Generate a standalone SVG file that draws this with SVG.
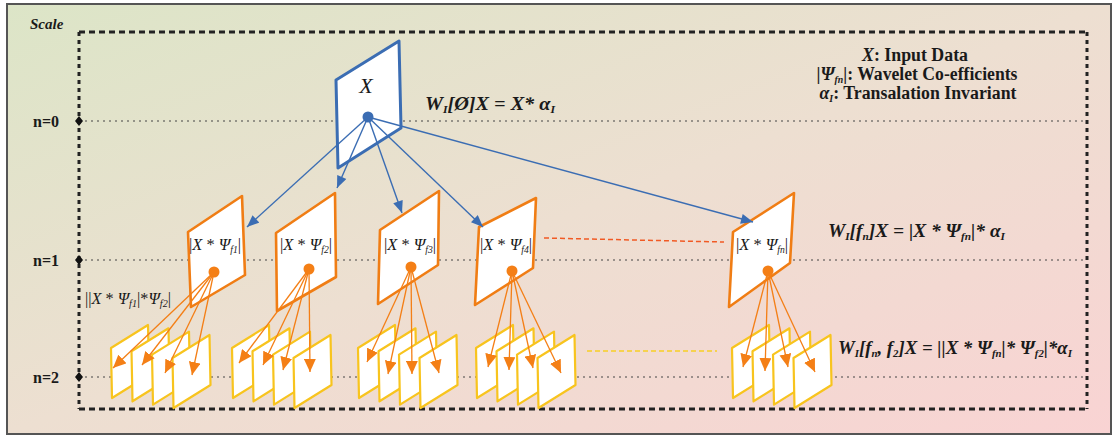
<svg xmlns="http://www.w3.org/2000/svg" xmlns:xlink="http://www.w3.org/1999/xlink" width="1116" height="438" viewBox="0 0 1116 438">
<defs>
<linearGradient id="bg" x1="0" y1="0" x2="1" y2="1">
<stop offset="0" stop-color="#dce5c7"/>
<stop offset="0.5" stop-color="#eddfd1"/>
<stop offset="1" stop-color="#f9d3d3"/>
</linearGradient>
<marker id="ab" viewBox="0 0 12 10" refX="12" refY="5" markerWidth="13" markerHeight="10" markerUnits="userSpaceOnUse" orient="auto">
<path d="M0,0 L12,5 L0,10 z" fill="#3b6db3"/>
</marker>
<marker id="ao" viewBox="0 0 12 11" refX="12" refY="5.5" markerWidth="13" markerHeight="12" markerUnits="userSpaceOnUse" orient="auto">
<path d="M0,0 L12,5.5 L0,11 z" fill="#f47f16"/>
</marker>
<polygon id="fr" points="0,23 37,0 38,50 1,73" fill="#fff" stroke="#f8c41e" stroke-width="2.2" stroke-linejoin="round"/>
<style>
.t{font-family:"Liberation Serif","Times New Roman",serif;fill:#1a1a1a}
.b{font-weight:bold}
.i{font-style:italic}
.n1{fill:#fff;stroke:#f07d14;stroke-width:2.6;stroke-linejoin:round}
.bl{stroke:#3b6db3;stroke-width:1.4;fill:none;marker-end:url(#ab)}
.or{stroke:#f47f16;stroke-width:1.3;fill:none;marker-end:url(#ao)}
.dot{stroke:#444;stroke-width:1;stroke-dasharray:2 4;fill:none}
.lbl{font-size:17px}
.sub{font-size:10px}
</style>
</defs>
<rect x="0" y="0" width="1116" height="438" fill="#fff"/>
<rect x="7" y="4" width="1104" height="430" fill="url(#bg)" stroke="#555" stroke-width="2"/>
<text class="t b i" x="30" y="29" font-size="15">Scale</text>
<g id="frame">
<path d="M79,32 H1087" stroke="#222" stroke-width="3" stroke-dasharray="6 4" fill="none"/>
<path d="M79,409 H1087" stroke="#222" stroke-width="3" stroke-dasharray="6 4" fill="none"/>
<path d="M79,32 V409" stroke="#222" stroke-width="3" stroke-dasharray="4 4" fill="none"/>
<path d="M1087,32 V409" stroke="#222" stroke-width="3" stroke-dasharray="4 4" fill="none"/>
<path class="dot" d="M79,121 H1087"/>
<path class="dot" d="M79,260 H1087"/>
<path class="dot" d="M79,377 H1087"/>
<path d="M79,116 L83,121 L79,126 L75,121 z M79,255 L83,260 L79,265 L75,260 z M79,372 L83,377 L79,382 L75,377 z" fill="#111"/>
<text class="t b" x="33" y="127" font-size="16">n=0</text>
<text class="t b" x="33" y="266" font-size="16">n=1</text>
<text class="t b" x="33" y="383" font-size="16">n=2</text>
</g>
<g id="legend" class="t b" font-size="18" text-anchor="middle">
<text x="915" y="61" textLength="106" lengthAdjust="spacingAndGlyphs"><tspan class="i">X</tspan>: Input Data</text>
<text x="917" y="80" textLength="201" lengthAdjust="spacingAndGlyphs">|<tspan class="i">Ψ</tspan><tspan class="sub i" dy="3">fn</tspan><tspan dy="-3">|: Wavelet Co-efficients</tspan></text>
<text x="918" y="99" textLength="197" lengthAdjust="spacingAndGlyphs"><tspan class="i">α</tspan><tspan class="sub i" dy="3">I</tspan><tspan dy="-3">: Transalation Invariant</tspan></text>
</g>
<g id="eq0" class="t b i" font-size="19">
<text x="425" y="110" textLength="130" lengthAdjust="spacingAndGlyphs">W<tspan font-size="11" dy="3">I</tspan><tspan dy="-3">[Ø]X = X* α</tspan><tspan font-size="11" dy="3">I</tspan></text>
</g>
<g id="eq1" class="t b i" font-size="19">
<text x="828" y="237" textLength="177" lengthAdjust="spacingAndGlyphs">W<tspan font-size="11" dy="3">I</tspan><tspan dy="-3">[f</tspan><tspan font-size="11" dy="3">n</tspan><tspan dy="-3">]X = |X * Ψ</tspan><tspan font-size="11" dy="3">fn</tspan><tspan dy="-3">|* α</tspan><tspan font-size="11" dy="3">I</tspan></text>
</g>
<g id="eq2" class="t b i" font-size="19">
<text x="838" y="354" textLength="234" lengthAdjust="spacingAndGlyphs">W<tspan font-size="11" dy="3">I</tspan><tspan dy="-3">[f</tspan><tspan font-size="11" dy="3">n</tspan><tspan dy="-3">, f</tspan><tspan font-size="11" dy="3">2</tspan><tspan dy="-3">]X = ||X * Ψ</tspan><tspan font-size="11" dy="3">fn</tspan><tspan dy="-3">|* Ψ</tspan><tspan font-size="11" dy="3">f2</tspan><tspan dy="-3">|*α</tspan><tspan font-size="11" dy="3">I</tspan></text>
</g>
<g id="lbl-f1f2">
<text class="t" x="85" y="304" font-size="16" textLength="86" lengthAdjust="spacingAndGlyphs">||<tspan class="i">X</tspan> * <tspan class="i">Ψ</tspan><tspan class="sub i" dy="3">f1</tspan><tspan dy="-3">|*</tspan><tspan class="i">Ψ</tspan><tspan class="sub i" dy="3">f2</tspan><tspan dy="-3">|</tspan></text>
</g>
<g id="nodeX">
<polygon points="336,80 399,41 401,128 338,168" fill="#fff" stroke="#3b6db3" stroke-width="3" stroke-linejoin="round"/>
<text class="t i" x="366" y="93" font-size="22" text-anchor="middle">X</text>
</g>
<g id="node-f1">
<polygon class="n1" points="188,232 242,196 245,275 191,307"/>
<text class="t lbl" x="215" y="250" text-anchor="middle" textLength="52" lengthAdjust="spacingAndGlyphs">|<tspan class="i">X</tspan> * <tspan class="i">Ψ</tspan><tspan class="sub i" dy="3">f1</tspan><tspan dy="-3">|</tspan></text>
</g>
<g id="node-f2">
<polygon class="n1" points="276,233 335,193 336,277 277,311"/>
<text class="t lbl" x="306" y="250" text-anchor="middle" textLength="52" lengthAdjust="spacingAndGlyphs">|<tspan class="i">X</tspan> * <tspan class="i">Ψ</tspan><tspan class="sub i" dy="3">f2</tspan><tspan dy="-3">|</tspan></text>
</g>
<g id="node-f3">
<polygon class="n1" points="380,230 439,191 438,265 378,304"/>
<text class="t lbl" x="410" y="250" text-anchor="middle" textLength="52" lengthAdjust="spacingAndGlyphs">|<tspan class="i">X</tspan> * <tspan class="i">Ψ</tspan><tspan class="sub i" dy="3">f3</tspan><tspan dy="-3">|</tspan></text>
</g>
<g id="node-f4">
<polygon class="n1" points="479,227 536,198 533,268 475,305"/>
<text class="t lbl" x="506" y="250" text-anchor="middle" textLength="52" lengthAdjust="spacingAndGlyphs">|<tspan class="i">X</tspan> * <tspan class="i">Ψ</tspan><tspan class="sub i" dy="3">f4</tspan><tspan dy="-3">|</tspan></text>
</g>
<g id="node-fn">
<polygon class="n1" points="733,232 794,193 790,263 729,307"/>
<text class="t lbl" x="762" y="250" text-anchor="middle" textLength="52" lengthAdjust="spacingAndGlyphs">|<tspan class="i">X</tspan> * <tspan class="i">Ψ</tspan><tspan class="sub i" dy="3">fn</tspan><tspan dy="-3">|</tspan></text>
</g>
<g id="frames-f1">
<use xlink:href="#fr" x="111" y="325"/><use xlink:href="#fr" x="131.5" y="328.3"/><use xlink:href="#fr" x="152" y="331.6"/><use xlink:href="#fr" x="172.5" y="335"/>
</g>
<g id="frames-f2">
<use xlink:href="#fr" x="232" y="325"/><use xlink:href="#fr" x="252.5" y="328.3"/><use xlink:href="#fr" x="273" y="331.6"/><use xlink:href="#fr" x="293.5" y="335"/>
</g>
<g id="frames-f3">
<use xlink:href="#fr" x="358" y="325"/><use xlink:href="#fr" x="378.5" y="328.3"/><use xlink:href="#fr" x="399" y="331.6"/><use xlink:href="#fr" x="419.5" y="335"/>
</g>
<g id="frames-f4">
<use xlink:href="#fr" x="476" y="325"/><use xlink:href="#fr" x="496.5" y="328.3"/><use xlink:href="#fr" x="517" y="331.6"/><use xlink:href="#fr" x="537.5" y="335"/>
</g>
<g id="frames-fn">
<use xlink:href="#fr" x="732" y="325"/><use xlink:href="#fr" x="752.5" y="328.3"/><use xlink:href="#fr" x="773" y="331.6"/><use xlink:href="#fr" x="793.5" y="335"/>
</g>
<g id="connectors">
<path d="M544,238 L724,242" stroke="#f15a24" stroke-width="1.5" stroke-dasharray="5 3" fill="none"/>
<path d="M587,351 H717" stroke="#f7d024" stroke-width="1.5" stroke-dasharray="5 3" fill="none"/>
<path class="bl" d="M368,117 L247,227"/>
<path class="bl" d="M368,117 L337,188"/>
<path class="bl" d="M368,117 L402,213"/>
<path class="bl" d="M368,117 L483,227"/>
<path class="bl" d="M368,117 L753,222"/>
<path class="or" d="M214,272 L113,368"/>
<path class="or" d="M214,272 L142,365"/>
<path class="or" d="M214,272 L165,373"/>
<path class="or" d="M214,272 L192,375"/>
<path class="or" d="M309,269 L239,363"/>
<path class="or" d="M309,269 L263,365"/>
<path class="or" d="M309,269 L283,370"/>
<path class="or" d="M309,269 L310,372"/>
<path class="or" d="M411,267 L367,362"/>
<path class="or" d="M411,267 L388,374"/>
<path class="or" d="M411,267 L412,374"/>
<path class="or" d="M411,267 L439,373"/>
<path class="or" d="M512,271 L488,367"/>
<path class="or" d="M512,271 L509,370"/>
<path class="or" d="M512,271 L533,368"/>
<path class="or" d="M512,271 L561,373"/>
<path class="or" d="M768,271 L743,367"/>
<path class="or" d="M768,271 L765,371"/>
<path class="or" d="M768,271 L788,367"/>
<path class="or" d="M768,271 L815,372"/>
</g>
<g id="ports">
<circle cx="368" cy="117" r="5.5" fill="#3b6db3"/>
<circle cx="214" cy="272" r="5.5" fill="#f47f16"/>
<circle cx="309" cy="269" r="5.5" fill="#f47f16"/>
<circle cx="411" cy="267" r="5.5" fill="#f47f16"/>
<circle cx="512" cy="271" r="5.5" fill="#f47f16"/>
<circle cx="768" cy="271" r="5.5" fill="#f47f16"/>
</g>
</svg>
